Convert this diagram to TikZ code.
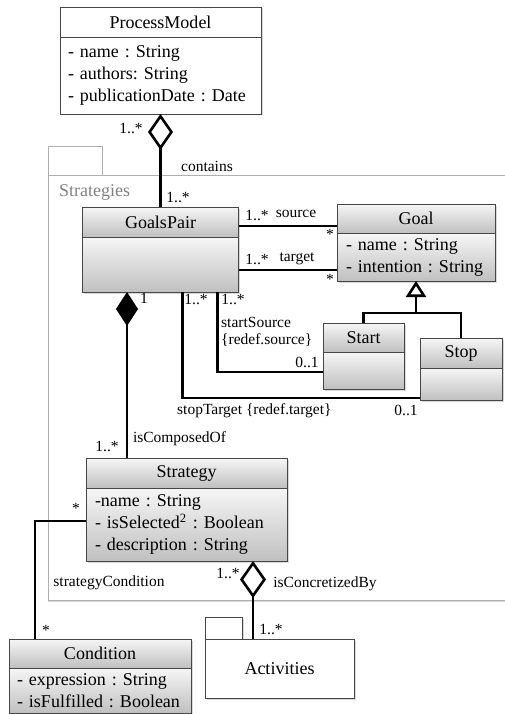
\documentclass[tikz,border=0pt]{standalone}
\usepackage{fontspec}
\setmainfont{Liberation Serif}
\usetikzlibrary{arrows.meta,calc,shadows}
\definecolor{shtop}{RGB}{246,246,246}
\definecolor{shbot}{RGB}{192,192,192}
\definecolor{edge}{RGB}{70,70,70}
\definecolor{pkg}{RGB}{175,175,175}
\definecolor{pkgtxt}{RGB}{130,130,130}
\begin{document}
\frenchspacing
\begin{tikzpicture}[x=1pt,y=-1pt,
 shad/.style={drop shadow={shadow xshift=1.5pt,shadow yshift=-1.5pt,opacity=0.3}},
 cls/.style={draw=edge, line width=0.9pt, top color=shtop, bottom color=shbot, inner sep=0pt, outer sep=0pt, font=\fontsize{18}{22}\selectfont, shad},
 hdr/.style={cls, anchor=north west, align=center},
 bdy/.style={cls, anchor=north, align=left, inner xsep=9pt},
 assoc/.style={line width=2.6pt, draw=black},
 lbl/.style={font=\fontsize{15.5}{18}\selectfont, inner sep=0pt},
 pk/.style={draw=pkg, line width=1pt, inner sep=0pt, outer sep=0pt, anchor=north west},
 apk/.style={draw=edge, line width=0.9pt, fill=white, inner sep=0pt, outer sep=0pt, anchor=north west, shad}]
\useasboundingbox (0,0) rectangle (505,714);

% Strategies package
\node[pk, minimum width=54pt, minimum height=29pt] (stab) at (48,147) {};
\node[pk, minimum width=480pt, minimum height=424pt, drop shadow={shadow xshift=0pt,shadow yshift=-1.5pt,opacity=0.3}, fill=white] (spkg) at (48,176) {};
\node[font=\fontsize{18}{22}\selectfont, text=pkgtxt, anchor=west, inner sep=0pt] (stxt) at (59,192) {Strategies};

% ProcessModel
\node[draw=edge, line width=0.9pt, fill=white, inner sep=0pt, outer sep=0pt, font=\fontsize{18}{22}\selectfont, shad, anchor=north west, minimum width=201pt, minimum height=30pt] (pmh) at (60,7) {ProcessModel};
\node[draw=edge, line width=0.9pt, fill=white, outer sep=0pt, inner ysep=0pt, inner xsep=8pt, font=\fontsize{18}{22}\selectfont, shad, anchor=north, align=left, text width=185pt, minimum height=77pt] (pmb) at (pmh.south) {- name : String\\- authors: String\\- publicationDate : Date};

% GoalsPair
\node[hdr, minimum width=156pt, minimum height=30pt] (gph) at (82.5,207) {GoalsPair};
\node[bdy, text width=138pt, minimum height=55pt] (gpb) at (gph.south) {};

% Goal
\node[hdr, minimum width=158pt, minimum height=29pt] (goalh) at (337,204) {Goal};
\node[bdy, text width=140pt, minimum height=48pt] (goalb) at (goalh.south) {- name : String\\- intention : String};

% Start
\node[hdr, minimum width=81pt, minimum height=29pt] (starth) at (323,323) {Start};
\node[bdy, text width=63pt, minimum height=37pt] (startb) at (starth.south) {};

% Stop
\node[hdr, minimum width=82pt, minimum height=30pt] (stoph) at (420,338) {Stop};
\node[bdy, text width=64pt, minimum height=32pt] (stopb) at (stoph.south) {};

% Strategy
\node[hdr, minimum width=201pt, minimum height=30pt] (strath) at (86,458) {Strategy};
\node[bdy, text width=183pt, minimum height=73pt] (strab) at (strath.south) {-name : String\\- isSelected\textsuperscript{2} : Boolean\\- description : String};

% Condition
\node[hdr, minimum width=182pt, minimum height=29pt] (condh) at (9,639) {Condition};
\node[bdy, inner xsep=8pt, text width=166pt, minimum height=45pt] (condb) at (condh.south) {- expression : String\\- isFulfilled : Boolean};

% Activities package
\node[apk, minimum width=37pt, minimum height=22pt] (acttab) at (205,617) {};
\node[apk, minimum width=149pt, minimum height=59pt, font=\fontsize{18}{22}\selectfont] (actb) at (205,639) {Activities};

% connectors
\draw[assoc, {Diamond[open, fill=white, length=36pt, width=25pt]}-] (pmb.south) -- (gph.north);
\draw[assoc] ($(gph.north east)+(0,19)$) -- ($(goalh.north west)+(0,22)$);
\draw[assoc] ($(gpb.south east)+(0,-22)$) -- ($(goalb.south west)+(0,-11)$);
\draw[assoc] (starth.north) -- ++(0,-10) -| (stoph.north);
\draw[assoc, -{Triangle[open, fill=white, length=16pt, width=20pt]}] ($(goalb.south)+(0,32)$) -- (goalb.south);
\draw[assoc] ($(gpb.south west)+(135,0)$) |- ($(startb.south west)+(0,-17)$);
\draw[assoc] ($(gpb.south west)+(100,0)$) |- ($(stopb.south west)+(0,-2)$);
\draw[assoc, {Diamond[length=34pt, width=22pt]}-] ($(gpb.south west)+(44.5,0)$) -- ($(strath.north west)+(41,0)$);
\draw[assoc] ($(strab.north west)+(0,33)$) -| ($(condh.north west)+(26,0)$);
\draw[assoc, {Diamond[open, fill=white, length=37pt, width=26pt]}-] ($(strab.south west)+(167,0)$) -- ($(actb.north west)+(48,0)$);

% labels
\node[lbl] (l1) at (131,128) {1..*};
\node[lbl] (l2) at (207,166) {contains};
\node[lbl] (l3) at (178,197) {1..*};
\node[lbl] (l4) at (257,215) {1..*};
\node[lbl] (l5) at (296,214) {source};
\node[lbl] (l6) at (330,234) {*};
\node[lbl] (l7) at (257,259) {1..*};
\node[lbl] (l8) at (297,259) {target};
\node[lbl] (l9) at (330,279) {*};
\node[lbl] (l10) at (196,299) {1..*};
\node[lbl] (l11) at (233,299) {1..*};
\node[lbl] (l12) at (144,298) {1};
\node[lbl, anchor=west] (l13) at (221,322) {startSource};
\node[lbl, anchor=west] (l14) at (221,340) {\{redef.source\}};
\node[lbl] (l15) at (307,362) {0..1};
\node[lbl, anchor=west] (l16) at (177,411) {stopTarget \{redef.target\}};
\node[lbl] (l17) at (406,410) {0..1};
\node[lbl] (l18) at (107,446) {1..*};
\node[lbl] (l19) at (179.5,439) {isComposedOf};
\node[lbl] (l20) at (76,508) {*};
\node[lbl] (l21) at (46,630) {*};
\node[lbl] (l22) at (109,583) {strategyCondition};
\node[lbl] (l23) at (228,573) {1..*};
\node[lbl] (l24) at (325,584) {isConcretizedBy};
\node[lbl] (l25) at (271,629) {1..*};
\end{tikzpicture}
\end{document}
